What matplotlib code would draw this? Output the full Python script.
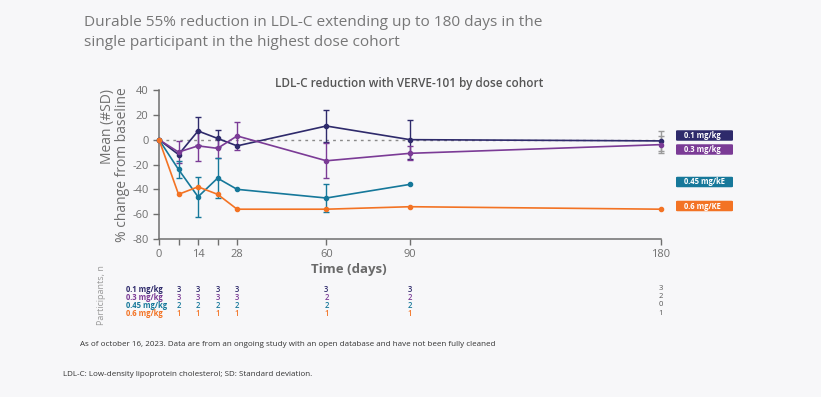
import numpy as np
import matplotlib
matplotlib.use("Agg")
import matplotlib.pyplot as plt
from matplotlib.patches import FancyBboxPatch

plt.rcParams['font.family'] = ['Open Sans', 'DejaVu Sans']
plt.rcParams['axes.unicode_minus'] = False

# ---------------- data ----------------
days = [0, 7, 14, 21, 28, 60, 90, 180]
cohorts = ["0.1 mg/kg", "0.3 mg/kg", "0.45 mg/kg", "0.6 mg/kg"]
legend_labels = ["0.1 mg/kg", "0.3 mg/kg", "0.45 mg/kE", "0.6 mg/KE"]

ldl_01 = [0, -12, 7, 1, -5, 11, 0, -1]
ldl_03 = [0, -10, -5, -7, 3, -17, -11, -4]
ldl_045 = [0, -24, -46, -31, -40, -47, -36, np.nan]
ldl_06 = [0, -44, -38, -44, -56, -56, -54, -56]

sd_01 = [np.nan, np.nan, 11, 7, np.nan, 13, 15.5, 8]
sd_03 = [np.nan, 9, 12, 7.5, 11, 14, 5.5, 7]
sd_045 = [np.nan, 7, 16, 16, np.nan, 11, np.nan, np.nan]
sd_06 = [np.nan, np.nan, np.nan, np.nan, np.nan, np.nan, np.nan, np.nan]

n_days = [7, 14, 21, 28, 60, 90, 180]
n_01 = [3, 3, 3, 3, 3, 3, 3]
n_03 = [3, 3, 3, 3, 2, 2, 2]
n_045 = [2, 2, 2, 2, 2, 2, 0]
n_06 = [1, 1, 1, 1, 1, 1, 1]

yticks = [40, 20, 0, -20, -40, -60, -80]
xticks = [0, 14, 28, 60, 90, 180]
xminor = [7, 21]

colors = ["#2e2a6b", "#7b3b96", "#16789a", "#f37324"]
bg = "#f7f7f9"

series = [ldl_01, ldl_03, ldl_045, ldl_06]
sds = [sd_01, sd_03, sd_045, sd_06]
ns = [n_01, n_03, n_045, n_06]

W, H = 821, 397
fig = plt.figure(figsize=(W / 100, H / 100), dpi=100, facecolor=bg)

def fx(px):
    return px / W

def fy(py):
    return 1 - py / H

ax = fig.add_axes([fx(159), fy(239), fx(661) - fx(159), fy(90) - fy(239)])
ax.set_facecolor(bg)

# zero reference
ax.plot([0, 180], [0, 0], linestyle=(0, (2, 3)), color="#8a8a8a", lw=1.0, zorder=1)

for y, s, c in zip(series, sds, colors):
    d = np.array(days, float)
    yv = np.array(y, float)
    sv = np.array(s, float)
    m = ~np.isnan(yv)
    ax.plot(d[m], yv[m], color=c, lw=1.2, marker="o", ms=3.0, zorder=3, clip_on=False)
    e = ~np.isnan(sv)
    for di, yi, si in zip(d[e], yv[e], sv[e]):
        ec = "#9a9a9a" if di == 180 else c
        ax.errorbar([di], [yi], yerr=[[si], [si]], fmt="none", ecolor=ec,
                    elinewidth=1.0, capsize=2.5, capthick=1.0, zorder=2, clip_on=False)

ax.set_xlim(0, 180)
ax.set_ylim(-80, 40)
ax.set_yticks(yticks)
ax.set_xticks(xticks)
ax.set_xticks(xminor, minor=True)
for sp in ["top", "right"]:
    ax.spines[sp].set_visible(False)
for sp in ["left", "bottom"]:
    ax.spines[sp].set_color("#6f6f6f")
    ax.spines[sp].set_linewidth(1.1)
ax.tick_params(axis="both", which="both", colors="#6f6f6f", labelcolor="#6f6f6f",
               labelsize=8, length=4, width=1.0, direction="out")
ax.tick_params(axis="x", which="minor", length=4)

# y label (two lines)
fig.text(fx(107), fy(126), "Mean (#SD)", rotation=90, ha="center", va="center",
         fontsize=10, color="#6f6f6f")
fig.text(fx(122), fy(165), "% change from baseline", rotation=90, ha="center", va="center",
         fontsize=10, color="#6f6f6f")

# titles
fig.text(fx(84), fy(22), "Durable 55% reduction in LDL-C extending up to 180 days in the",
         fontsize=11.1, color="#777777", ha="left", va="center", fontweight="medium")
fig.text(fx(84), fy(42), "single participant in the highest dose cohort",
         fontsize=11.1, color="#777777", ha="left", va="center", fontweight="medium")
fig.text(fx(409), fy(84), "LDL-C reduction with VERVE-101 by dose cohort",
         fontsize=8.5, color="#555555", ha="center", va="center", fontweight="semibold")
fig.text(fx(349), fy(270), "Time (days)", fontsize=9.5, color="#6a6a6a",
         ha="center", va="center", fontweight="bold")

# legend boxes
box_y = [135.5, 149.5, 182, 206]
for lab, c, by in zip(legend_labels, colors, box_y):
    x0, x1 = fx(676), fx(733)
    h = 10.5 / H
    p = FancyBboxPatch((x0, fy(by) - h / 2), x1 - x0, h,
                       boxstyle="round,pad=0,rounding_size=0.002",
                       transform=fig.transFigure, facecolor=c, edgecolor="none")
    fig.patches.append(p)
    fig.text(fx(684), fy(by), lab, fontsize=5.5, color="white", ha="left", va="center",
             fontweight="bold")

# participants table
fig.text(fx(101), fy(295), "Participants, n", rotation=90, ha="center", va="center",
         fontsize=6.5, color="#9a9a9a")
row_y = [289, 297, 305, 313.5]
for lab, c, ry, nrow in zip(cohorts, colors, row_y, ns):
    fig.text(fx(126), fy(ry), lab, fontsize=5.5, color=c, ha="left", va="center",
             fontweight="bold")
    for dd, nv in zip(n_days, nrow):
        xpix = ax.transData.transform((dd, 0))[0]
        fig.text(xpix / W, fy(ry), str(nv), fontsize=5.5,
                 color=("#555555" if dd == 180 else c), ha="center", va="center",
                 fontweight=("normal" if dd == 180 else "semibold"))

# footnotes
fig.text(fx(80), fy(344), "As of october 16, 2023. Data are from an ongoing study with an open database and have not been fully cleaned",
         fontsize=5.8, color="#333333", ha="left", va="center")
fig.text(fx(63), fy(375), "LDL-C: Low-density lipoprotein cholesterol; SD: Standard deviation.",
         fontsize=5.8, color="#333333", ha="left", va="center")

fig.savefig("out.png", dpi=100, facecolor=bg)
